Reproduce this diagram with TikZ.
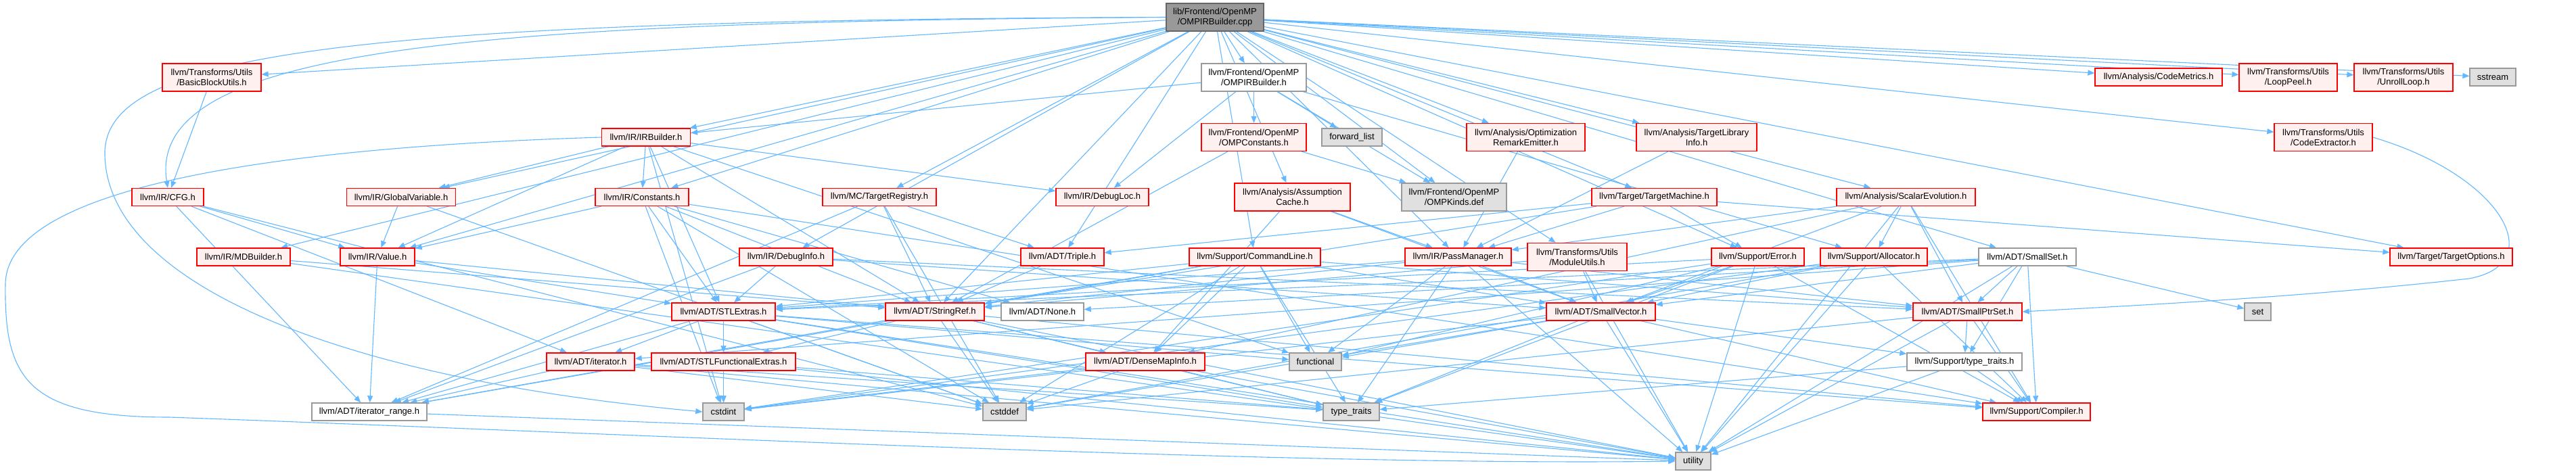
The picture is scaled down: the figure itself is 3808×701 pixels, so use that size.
\documentclass[tikz,border=0pt]{standalone}
\usepackage{fontspec}
\setmainfont{Liberation Sans}
\usetikzlibrary{arrows.meta,backgrounds}
\definecolor{edgec}{HTML}{63B8FF}
\definecolor{redb}{HTML}{FF0000}
\definecolor{redf}{HTML}{FFF0F0}
\definecolor{grayb}{HTML}{999999}
\definecolor{grayf}{HTML}{E0E0E0}
\definecolor{rootb}{HTML}{666666}
\definecolor{rootf}{HTML}{999999}
\tikzset{
 nb/.style={draw, line width=1.3pt, inner sep=0pt, align=center, font=\fontsize{13}{15}\selectfont, minimum height=26pt},
 redn/.style={nb, draw=redb, fill=redf},
 whiten/.style={nb, draw=grayb, fill=white},
 grayn/.style={nb, draw=grayb, fill=grayf},
 rootn/.style={nb, draw=rootb, fill=rootf},
 two/.style={minimum height=41pt},
 e/.style={draw=edgec, line width=1.1pt, -{Triangle[length=10pt,width=8pt]}},
}
\begin{document}
\begin{tikzpicture}[x=1pt,y=-1pt]
\path[use as bounding box] (0,0) rectangle (3808,701);
% row 0
\node[rootn,two,minimum width=144pt] (root) at (1796,25.5) {lib/Frontend/OpenMP\\/OMPIRBuilder.cpp};
% row 1
\node[redn,two,minimum width=146pt] (bbu) at (313,114.5) {llvm/Transforms/Utils\\/BasicBlockUtils.h};
\node[whiten,two,minimum width=155pt] (ompb) at (1853.5,114.5) {llvm/Frontend/OpenMP\\/OMPIRBuilder.h};
\node[redn,minimum width=188pt] (cm) at (3191,114) {llvm/Analysis/CodeMetrics.h};
\node[redn,two,minimum width=145pt] (lp) at (3382.5,114.5) {llvm/Transforms/Utils\\/LoopPeel.h};
\node[redn,two,minimum width=146pt] (ul) at (3553,114.5) {llvm/Transforms/Utils\\/UnrollLoop.h};
\node[grayn,minimum width=68pt] (ss) at (3685,114) {sstream};
% row 2
\node[redn,minimum width=131pt] (irb) at (955,203) {llvm/IR/IRBuilder.h};
\node[redn,two,minimum width=155pt] (ompc) at (1853.5,203) {llvm/Frontend/OpenMP\\/OMPConstants.h};
\node[grayn,minimum width=89pt] (fl) at (1998.5,203) {forward\_list};
\node[redn,two,minimum width=175pt] (ore) at (2255.5,203) {llvm/Analysis/Optimization\\RemarkEmitter.h};
\node[redn,two,minimum width=178pt] (tli) at (2508,203) {llvm/Analysis/TargetLibrary\\Info.h};
\node[redn,two,minimum width=145pt] (ce) at (3434.5,203) {llvm/Transforms/Utils\\/CodeExtractor.h};
% row 3
\node[redn,minimum width=106pt] (cfg) at (248,291.5) {llvm/IR/CFG.h};
\node[redn,minimum width=161pt] (gv) at (593,291.5) {llvm/IR/GlobalVariable.h};
\node[redn,minimum width=138pt] (const) at (949,291.5) {llvm/IR/Constants.h};
\node[redn,minimum width=168pt] (treg) at (1300,291.5) {llvm/MC/TargetRegistry.h};
\node[redn,minimum width=137pt] (dloc) at (1629.5,291.5) {llvm/IR/DebugLoc.h};
\node[redn,two,minimum width=171pt] (ac) at (1910.5,291.5) {llvm/Analysis/Assumption\\Cache.h};
\node[grayn,two,minimum width=155pt] (kinds) at (2149.5,291.5) {llvm/Frontend/OpenMP\\/OMPKinds.def};
\node[redn,minimum width=185pt] (tm) at (2445.5,291.5) {llvm/Target/TargetMachine.h};
\node[redn,minimum width=205pt] (se) at (2817.5,291.5) {llvm/Analysis/ScalarEvolution.h};
% row 4
\node[redn,minimum width=138pt] (mdb) at (360,380) {llvm/IR/MDBuilder.h};
\node[redn,minimum width=110pt] (val) at (558,380) {llvm/IR/Value.h};
\node[redn,minimum width=138pt] (dinfo) at (1162,380) {llvm/IR/DebugInfo.h};
\node[redn,minimum width=123pt] (triple) at (1570.5,380) {llvm/ADT/Triple.h};
\node[redn,minimum width=194pt] (cl) at (1855,380) {llvm/Support/CommandLine.h};
\node[redn,minimum width=157pt] (pm) at (2155.5,380) {llvm/IR/PassManager.h};
\node[redn,two,minimum width=147pt] (mu) at (2331.5,380) {llvm/Transforms/Utils\\/ModuleUtils.h};
\node[redn,minimum width=137pt] (err) at (2598.5,380) {llvm/Support/Error.h};
\node[redn,minimum width=158pt] (alloc) at (2770,380) {llvm/Support/Allocator.h};
\node[whiten,minimum width=144pt] (sset) at (2997,380) {llvm/ADT/SmallSet.h};
\node[redn,minimum width=181pt] (topt) at (3623.5,380) {llvm/Target/TargetOptions.h};
% row 5
\node[redn,minimum width=153pt] (stl) at (1069.5,461) {llvm/ADT/STLExtras.h};
\node[redn,minimum width=146pt] (sref) at (1382,461) {llvm/ADT/StringRef.h};
\node[whiten,minimum width=122pt] (none) at (1541,461) {llvm/ADT/None.h};
\node[redn,minimum width=161pt] (svec) at (2366.5,461) {llvm/ADT/SmallVector.h};
\node[redn,minimum width=161pt] (sptr) at (2908.5,461) {llvm/ADT/SmallPtrSet.h};
\node[grayn,minimum width=39pt] (set) at (3337.5,461) {set};
% row 6
\node[redn,minimum width=130pt] (iter) at (873,535) {llvm/ADT/iterator.h};
\node[redn,minimum width=213pt] (sfe) at (1069.5,535) {llvm/ADT/STLFunctionalExtras.h};
\node[redn,minimum width=176pt] (dmi) at (1693,535) {llvm/ADT/DenseMapInfo.h};
\node[grayn,minimum width=77pt] (func) at (1944.5,535) {functional};
\node[whiten,minimum width=170pt] (stt) at (2904,535) {llvm/Support/type\_traits.h};
% row 7
\node[whiten,minimum width=170pt] (irange) at (546,609) {llvm/ADT/iterator\_range.h};
\node[grayn,minimum width=61pt] (cstdint) at (1069.5,609) {cstdint};
\node[grayn,minimum width=64pt] (cstddef) at (1485,609) {cstddef};
\node[grayn,minimum width=83pt] (tt) at (1997.5,609) {type\_traits};
\node[redn,minimum width=159pt] (comp) at (3010.5,609) {llvm/Support/Compiler.h};
% row 8
\node[grayn,minimum width=52pt] (util) at (2503,682) {utility};

\begin{pgfonlayer}{background}
\fill[white] (0,0) rectangle (3808,701);
\foreach \t in {ompb,bbu,gv,irb,const,mdb,val,treg,dinfo,triple,cl,ac,kinds,ore,tli,tm,se,pm,mu,err,sset,topt,cm,lp,ul,ss,ce,sref} \draw[e] (root) -- (\t);
\draw[e] (root.west) .. controls (700,32) and (215,70) .. (cfg.north);
\draw[e] (root.west) .. controls (500,30) and (150,80) .. (155,230) .. controls (160,420) and (500,560) .. (cstdint.west);
\foreach \t in {irb,ompc,dloc,fl,kinds,alloc} \draw[e] (ompb) -- (\t);
\foreach \t in {kinds,sref} \draw[e] (ompc) -- (\t);
\draw[e] (bbu) -- (cfg);
\foreach \t in {val,iter,irange,cstddef} \draw[e] (cfg) -- (\t);
\foreach \t in {val,cstddef} \draw[e] (gv) -- (\t);
\foreach \t in {const,gv,val,stl,sref,dloc,cstdint,func} \draw[e] (irb) -- (\t);
\draw[e] (irb.west) .. controls (500,215) and (10,260) .. (8,420) .. controls (6,560) and (40,617) .. (250,617) .. controls (900,640) and (1900,690) .. (util.west);
\foreach \t in {val,stl,sref,none,comp,cstddef,cstdint} \draw[e] (const) -- (\t);
\foreach \t in {sref,util} \draw[e] (mdb) -- (\t);
\foreach \t in {stl,sref,irange} \draw[e] (val) -- (\t);
\foreach \t in {triple,sref,irange,cstddef} \draw[e] (treg) -- (\t);
\foreach \t in {stl,sptr,svec,irange} \draw[e] (dinfo) -- (\t);
\draw[e] (triple) -- (sref);
\foreach \t in {stl,sptr,svec,sref,irange,func,cstddef,tt,dmi} \draw[e] (cl) -- (\t);
\foreach \t in {svec,pm,dmi} \draw[e] (ac) -- (\t);
\draw[e] (ore) -- (pm);
\draw[e] (tli) -- (pm);
\foreach \t in {triple,pm,err,topt,sref} \draw[e] (tm) -- (\t);
\foreach \t in {dmi,sptr,svec,pm,alloc,comp,util} \draw[e] (se) -- (\t);
\foreach \t in {stl,sptr,svec,sref,tt,util,func} \draw[e] (pm) -- (\t);
\foreach \t in {svec,sref,util} \draw[e] (mu) -- (\t);
\foreach \t in {stl,svec,comp,cstdint,func,tt,util} \draw[e] (err) -- (\t);
\foreach \t in {svec,comp,cstddef,cstdint,util} \draw[e] (alloc) -- (\t);
\foreach \t in {stl,sptr,svec,iter,comp,stt,set,util,none} \draw[e] (sset) -- (\t);
\foreach \t in {comp,stt,cstddef,cstdint,func,tt,util} \draw[e] (svec) -- (\t);
\foreach \t in {comp,stt,cstddef,util} \draw[e] (sptr) -- (\t);
\foreach \t in {comp,tt,util} \draw[e] (stt) -- (\t);
\foreach \t in {sfe,iter,irange,comp,cstddef,cstdint,func,tt,util} \draw[e] (stl) -- (\t);
\foreach \t in {sfe,dmi,irange,comp,cstddef,tt,util} \draw[e] (sref) -- (\t);
\foreach \t in {cstdint,tt,util} \draw[e] (sfe) -- (\t);
\foreach \t in {cstddef,cstdint,tt,util} \draw[e] (dmi) -- (\t);
\foreach \t in {irange,cstddef,tt,util} \draw[e] (iter) -- (\t);
\draw[e] (irange) -- (util);
\draw[e] (ce.east) .. controls (3700,260) and (3770,390) .. (3650,412) .. controls (3400,440) and (3150,452) .. (sptr.east);
\end{pgfonlayer}
\end{tikzpicture}
\end{document}
